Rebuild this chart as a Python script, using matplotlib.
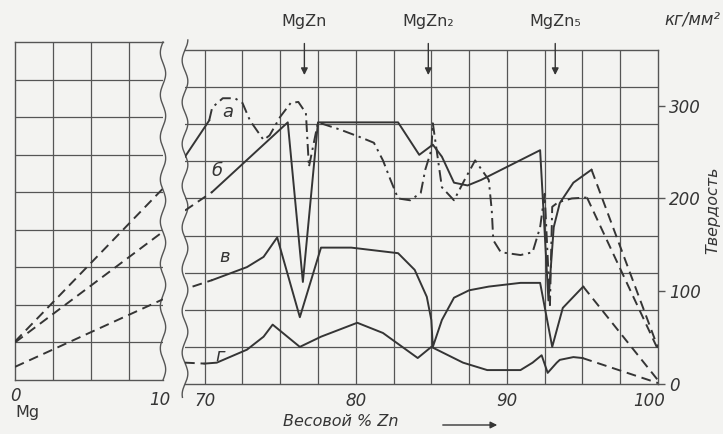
import numpy as np
import matplotlib
matplotlib.use("Agg")
import matplotlib.pyplot as plt

# ---- data (hardness, kg/mm^2) ----
# left panel: Mg side, 0..10 % Zn
left_x = [0, 9.7]
left_1 = [41, 204]
left_2 = [40, 158]
left_3 = [14, 86]

# right panel: 70..100 % Zn
# curve a (dash-dot)
a_start_x = [68.7, 70.3]
a_start_y = [245, 284]
a_x = [70.3, 70.5, 71.2, 72.0, 72.5, 73.0, 73.9, 74.3, 75.0, 75.7, 76.2, 76.7, 76.9, 77.5,
       79.0, 80.3, 81.2, 81.8, 82.3, 82.8, 83.6, 84.3, 84.6, 85.0, 85.1, 85.7, 86.5, 87.2,
       87.9, 88.8, 89.0, 89.1, 89.6, 90.9, 91.7, 92.2, 92.5, 92.85, 93.0, 93.4, 94.3, 95.3]
a_y = [284, 298, 308, 308, 303, 284, 263, 268, 288, 303, 304, 292, 234, 282,
       274, 266, 260, 241, 220, 200, 198, 206, 231, 252, 281, 212, 198, 220,
       241, 220, 187, 155, 142, 139, 142, 169, 205, 85, 191, 196, 200, 201]
a_end_x = [95.3, 100]
a_end_y = [201, 37]

# curve b
b_start_x = [68.7, 70.5]
b_start_y = [187, 207]
b_x = [70.5, 75.5, 76.5, 77.5, 82.8, 84.2, 85.1, 85.7, 86.5, 87.4, 88.3, 92.2, 92.75,
       93.1, 93.5, 94.4, 95.6]
b_y = [207, 282, 110, 282, 282, 247, 258, 245, 217, 214, 220, 252, 90,
       169, 195, 217, 231]
b_end_x = [95.6, 100]
b_end_y = [231, 39]

# curve v
c_start_x = [69.2, 70.5]
c_start_y = [105, 112]
c_x = [70.5, 72.8, 73.9, 74.8, 76.3, 77.7, 79.7, 82.8, 83.9, 84.7, 85.0, 85.1, 85.7,
       86.5, 87.5, 88.8, 90.9, 92.2, 93.0, 93.7, 95.05]
c_y = [112, 126, 137, 158, 72, 147, 147, 141, 123, 94, 69, 40, 69,
       93, 101, 105, 109, 109, 40, 82, 105]
c_end_x = [95.05, 100]
c_end_y = [105, 4]

# curve g
d_start_x = [68.7, 70.0]
d_start_y = [23, 22]
d_x = [70.0, 70.8, 72.8, 73.9, 74.5, 76.3, 77.7, 80.1, 81.8, 84.1, 85.0, 87.1, 88.7,
       90.9, 91.7, 92.3, 92.7, 93.3, 93.5, 94.4, 95.0]
d_y = [22, 23, 37, 51, 64, 40, 51, 66, 55, 28, 40, 23, 15,
       15, 23, 31, 12, 23, 26, 29, 28]
d_end_x = [95.0, 100]
d_end_y = [28, 1]

phase_x = [76.6, 84.8, 93.2]
phase_names = ["MgZn", "MgZn₂", "MgZn₅"]

y_ticks = [0, 100, 200, 300]
x_ticks_right = [70, 80, 90, 99.4]
x_labels_right = ["70", "80", "90", "100"]

# ---- figure ----
W, H = 723, 434
bg = "#f3f3f1"
ink = "#353535"
gridc = "#555555"
fig = plt.figure(figsize=(W / 100, H / 100), dpi=100, facecolor=bg)

def box(x0, y0, x1, y1):
    return [x0 / W, 1 - y1 / H, (x1 - x0) / W, (y1 - y0) / H]

ax_l = fig.add_axes(box(15, 42, 163, 380))
ax_r = fig.add_axes(box(185, 50, 658, 384))

ymax = 360
for ax in (ax_l, ax_r):
    ax.set_facecolor(bg)
    ax.set_ylim(0, ymax)
    for s in ax.spines.values():
        s.set_color(gridc)
        s.set_linewidth(1.0)
    for gy in np.arange(40, ymax, 40):
        ax.axhline(gy, color=gridc, lw=0.9, zorder=1)

ax_l.set_xlim(0, 9.7)
ax_r.set_xlim(68.7, 100)
for gx in [2.5, 5, 7.5]:
    ax_l.axvline(gx, color=gridc, lw=0.9, zorder=1)
for gx in np.arange(70, 100, 2.5):
    ax_r.axvline(gx, color=gridc, lw=0.9, zorder=1)

# broken-axis edges (wavy)
ax_l.spines["right"].set_visible(False)
ax_r.spines["left"].set_visible(False)
t = np.linspace(0, 1, 200)
ax_l.plot(1 + 0.018 * np.sin(t * 2 * np.pi * 8), t, transform=ax_l.transAxes,
          color=gridc, lw=1.0, clip_on=False)
t2 = np.linspace(-0.04, 1.03, 220)
ax_r.plot(0.006 * np.sin(t2 * 2 * np.pi * 8), t2, transform=ax_r.transAxes,
          color=gridc, lw=1.0, clip_on=False)

dash = (0, (5, 3))
dashdot = (0, (6, 2.5, 1.2, 2.5))
lw = 1.4

for yy in (left_1, left_2, left_3):
    ax_l.plot(left_x, yy, color=ink, lw=lw, ls=dash, zorder=3)

ax_r.plot(a_start_x, a_start_y, color=ink, lw=lw, zorder=3)
ax_r.plot(a_x, a_y, color=ink, lw=lw, ls=dashdot, zorder=3)
ax_r.plot(a_end_x, a_end_y, color=ink, lw=lw, ls=dash, zorder=3)

ax_r.plot(b_start_x, b_start_y, color=ink, lw=lw, ls=dash, zorder=3)
ax_r.plot(b_x, b_y, color=ink, lw=lw, zorder=3)
ax_r.plot(b_end_x, b_end_y, color=ink, lw=lw, ls=dash, zorder=3)

ax_r.plot(c_start_x, c_start_y, color=ink, lw=lw, ls=dash, zorder=3)
ax_r.plot(c_x, c_y, color=ink, lw=lw, zorder=3)
ax_r.plot(c_end_x, c_end_y, color=ink, lw=lw, ls=dash, zorder=3)

ax_r.plot(d_start_x, d_start_y, color=ink, lw=lw, ls=dash, zorder=3)
ax_r.plot(d_x, d_y, color=ink, lw=lw, zorder=3)
ax_r.plot(d_end_x, d_end_y, color=ink, lw=lw, ls=dash, zorder=3)

# curve letters
it = dict(fontstyle="italic", color=ink, fontsize=13)
ax_r.text(71.5, 293, "а", ha="center", va="center", **it)
ax_r.text(70.8, 230, "б", ha="center", va="center", **it)
ax_r.text(71.3, 137, "в", ha="center", va="center", **it)
ax_r.text(71.0, 30, "г", ha="center", va="center", **it)

# phase markers
for px_, name in zip(phase_x, phase_names):
    ax_r.annotate("", xy=(px_, 330), xytext=(px_, 370),
                  arrowprops=dict(arrowstyle="-|>", color=ink, lw=1.0,
                                  mutation_scale=10), annotation_clip=False)
    ax_r.text(px_, 391, name, ha="center", va="center", color=ink, fontsize=11.5,
              clip_on=False)

# axes ticks and labels
ax_l.set_yticks([])
ax_l.set_xticks([0])
ax_l.set_xticklabels(["0"], fontstyle="italic", fontsize=12, color=ink)
ax_l.tick_params(axis="x", length=0, pad=5)
ax_l.text(9.5, -12, "10", ha="center", va="top", clip_on=False, **{**it, "fontsize": 12})

ax_r.set_xticks(x_ticks_right)
ax_r.set_xticklabels(x_labels_right, fontstyle="italic", fontsize=12, color=ink)
ax_r.tick_params(axis="x", length=0, pad=6)
ax_r.yaxis.tick_right()
ax_r.set_yticks(y_ticks)
ax_r.set_yticklabels([str(v) for v in y_ticks], fontstyle="italic", fontsize=12,
                     color=ink)
ax_r.tick_params(axis="y", length=5, width=1.0, color=gridc, pad=3)

fig.text(15 / W, 1 - 412 / H, "Mg", ha="left", va="center", color=ink, fontsize=11.5)
fig.text(283 / W, 1 - 422 / H, "Весовой % Zn", ha="left", va="center",
         fontstyle="italic", color=ink, fontsize=11.5)
fig.patches.append(matplotlib.patches.FancyArrowPatch(
    (440 / W, 1 - 425 / H), (500 / W, 1 - 425 / H), transform=fig.transFigure,
    arrowstyle="-|>", mutation_scale=10, color=ink, lw=1.0))
fig.text(692 / W, 1 - 20 / H, "кг/мм²", ha="center", va="center",
         fontstyle="italic", color=ink, fontsize=12)
fig.text(713 / W, 1 - 210 / H, "Твердость", ha="center", va="center", rotation=90,
         fontstyle="italic", color=ink, fontsize=11.5)

fig.savefig("out.png", dpi=100, facecolor=bg)
